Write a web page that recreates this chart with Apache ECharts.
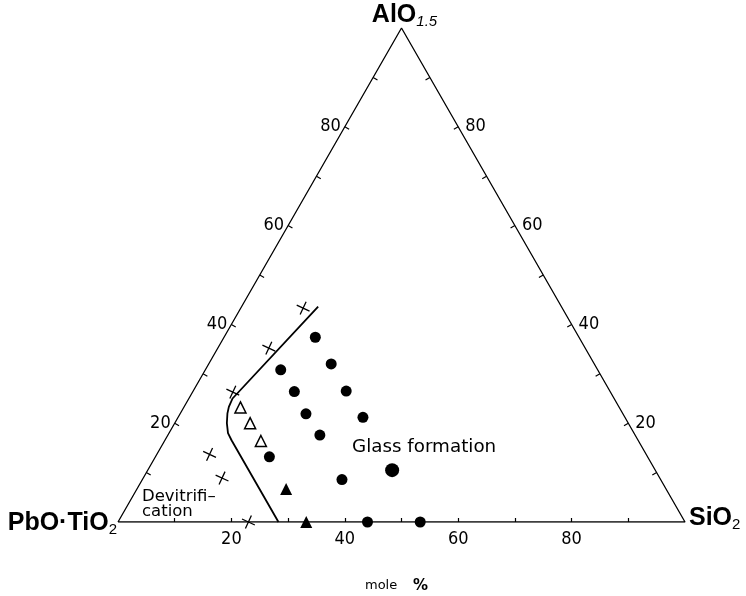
<!DOCTYPE html>
<html><head><meta charset="utf-8">
<script src="https://cdn.jsdelivr.net/npm/echarts@6/dist/echarts.min.js"></script>
<style>html,body{margin:0;padding:0;background:#fff}#c{width:746px;height:596px}</style>
</head><body><div id="c"></div>
<script>
// Compositions given as [SiO2 mol%, AlO1.5 mol%]; remainder is PbO·TiO2
const vertices = [[0, 0], [100, 0], [0, 100]]; // PbO·TiO2, SiO2, AlO1.5
const vertexMain = ['PbO·TiO', 'SiO', 'AlO'];
const vertexSub = ['2', '2', '1.5'];
const edgeTicks = [10, 20, 30, 40, 50, 60, 70, 80, 90];
const edgeTickLabels = [20, 40, 60, 80];
const glassPoints = [[16.1, 37.4], [21.6, 32.0], [13.3, 30.8], [17.9, 26.4], [27.0, 26.5], [22.2, 21.9], [32.6, 21.2], [26.8, 17.6], [20.1, 13.2], [35.2, 8.6], [44.0, 0], [53.3, 0]];
const glassLarge = [[43.1, 10.5]];
const openTriangles = [[10.0, 23.2], [13.3, 20.0], [17.0, 16.4]];
const filledTriangles = [[26.3, 6.7], [33.2, 0]];
const crosses = [[11.0, 43.3], [9.0, 35.2], [7.1, 26.3], [9.3, 13.7], [13.9, 8.9], [23.0, 0]];
const boundary = [[13.5, 43.6], [7.7, 25.0], [7.9, 23.3], [8.3, 22.0], [9.2, 20.0], [10.4, 18.0], [11.8, 16.5], [28.3, 0]];
const regionLabels = ['Glass formation', 'Devitrifi–\ncation'];
const unitLabel = ['mole', '%'];

// ternary -> cartesian (x = SiO2 + AlO1.5/2, y = AlO1.5)
function toXY(p) { return [p[0] + p[1] / 2, p[1]]; }
function edgePoint(edge, a) { return edge === 0 ? [a / 2, a] : [100 - a / 2, a]; }

const FONT_NUM = '"Liberation Sans Narrow", "DejaVu Sans Condensed", "Arial Narrow", "Liberation Sans", sans-serif';
const FONT_TXT = '"DejaVu Sans", sans-serif';
const FONT_BOLD = '"Liberation Sans", Arial, sans-serif';

const tickData = [];
edgeTicks.forEach(t => { tickData.push([0, t]); tickData.push([1, t]); });

const richBase = {
  m: { fontSize: 25, fontWeight: 'bold', fontFamily: FONT_BOLD, color: '#000', lineHeight: 28 },
  s: { fontSize: 15, fontFamily: FONT_BOLD, color: '#000', lineHeight: 20, verticalAlign: 'bottom' },
  si: { fontSize: 15, fontStyle: 'italic', fontFamily: FONT_BOLD, color: '#000', lineHeight: 18, verticalAlign: 'bottom' }
};
const vertexLabelCfg = [
  { position: 'left', distance: 1, offset: [0, 1], subKey: 's' },
  { position: 'right', distance: 4, offset: [0, -4], subKey: 's' },
  { position: 'top', distance: 0, offset: [3, 1], subKey: 'si' }
];

const chart = echarts.init(document.getElementById('c'));
const option = {
  backgroundColor: '#fff',
  animation: false,
  grid: { left: 118, right: 61, top: 28, bottom: 74 },
  xAxis: {
    type: 'value', min: 0, max: 100, interval: 10,
    axisLine: { show: false },
    axisTick: { show: true, inside: true, length: 4, lineStyle: { color: '#000', width: 1.2 }, customValues: edgeTicks },
    axisLabel: { customValues: edgeTickLabels, margin: 8, color: '#000', fontSize: 18, fontFamily: FONT_NUM },
    splitLine: { show: false }
  },
  yAxis: { type: 'value', min: 0, max: 100, show: false },
  graphic: [
    { type: 'text', x: 352, y: 447.5, style: { text: regionLabels[0], fontSize: 18.3, fontFamily: FONT_TXT, fill: '#000', verticalAlign: 'middle' } },
    { type: 'text', x: 142, y: 504, style: { text: regionLabels[1], fontSize: 16.5, lineHeight: 15.5, fontFamily: FONT_TXT, fill: '#000', verticalAlign: 'middle' } },
    { type: 'text', x: 365, y: 586, style: { text: unitLabel[0], fontSize: 13, fontFamily: FONT_TXT, fill: '#000', verticalAlign: 'middle' } },
    { type: 'text', x: 413, y: 586, style: { text: unitLabel[1], fontSize: 15, fontWeight: 'bold', fontFamily: FONT_TXT, fill: '#000', verticalAlign: 'middle' } }
  ],
  series: [
    {
      type: 'line', data: [0, 1, 2, 0].map(i => toXY(vertices[i])), symbol: 'none',
      lineStyle: { color: '#000', width: 1.3 }, silent: true, z: 2
    },
    {
      type: 'custom', data: tickData, clip: false, silent: true, z: 3,
      renderItem: function (params, api) {
        const e = api.value(0), v = api.value(1);
        const p = api.coord(edgePoint(e, v));
        const nx = e === 0 ? 0.866 : -0.866, ny = 0.5, L = 5;
        const children = [{
          type: 'line', shape: { x1: p[0], y1: p[1], x2: p[0] + nx * L, y2: p[1] + ny * L },
          style: { stroke: '#000', lineWidth: 1.2 }
        }];
        if (edgeTickLabels.indexOf(v) >= 0) {
          children.push({
            type: 'text',
            style: {
              text: String(v), x: e === 0 ? p[0] - 4 : p[0] + 7, y: p[1],
              align: e === 0 ? 'right' : 'left', verticalAlign: 'middle',
              fontSize: 18, fontFamily: FONT_NUM, fill: '#000'
            }
          });
        }
        return { type: 'group', children: children };
      }
    },
    {
      type: 'line', data: boundary.map(toXY), symbol: 'none',
      lineStyle: { color: '#000', width: 1.8 }, silent: true, z: 4
    },
    { type: 'scatter', data: glassPoints.map(toXY), symbol: 'circle', symbolSize: 11, itemStyle: { color: '#000', opacity: 1 }, z: 5 },
    { type: 'scatter', data: glassLarge.map(toXY), symbol: 'circle', symbolSize: 14, itemStyle: { color: '#000', opacity: 1 }, z: 5 },
    { type: 'scatter', data: openTriangles.map(toXY), symbol: 'triangle', symbolSize: 11, itemStyle: { color: '#fff', borderColor: '#000', borderWidth: 1.5, opacity: 1 }, z: 5 },
    { type: 'scatter', data: filledTriangles.map(toXY), symbol: 'triangle', symbolSize: 12, itemStyle: { color: '#000', opacity: 1 }, z: 5 },
    {
      type: 'scatter', data: crosses.map(toXY), symbol: 'path://M0,0L10,10M10,0L0,10', symbolSize: 10, symbolRotate: 20,
      itemStyle: { color: 'none', borderColor: '#000', borderWidth: 1.3, opacity: 1 }, z: 5
    },
    {
      type: 'scatter', symbolSize: 0, silent: true, z: 6,
      itemStyle: { opacity: 1 },
      data: vertices.map((v, i) => ({
        value: toXY(v),
        label: {
          show: true,
          color: '#000',
          opacity: 1,
          position: vertexLabelCfg[i].position,
          distance: vertexLabelCfg[i].distance,
          offset: vertexLabelCfg[i].offset,
          formatter: '{m|' + vertexMain[i] + '}{' + vertexLabelCfg[i].subKey + '|' + vertexSub[i] + '}',
          rich: richBase
        }
      }))
    }
  ]
};
chart.setOption(option);
</script>
</body></html>
